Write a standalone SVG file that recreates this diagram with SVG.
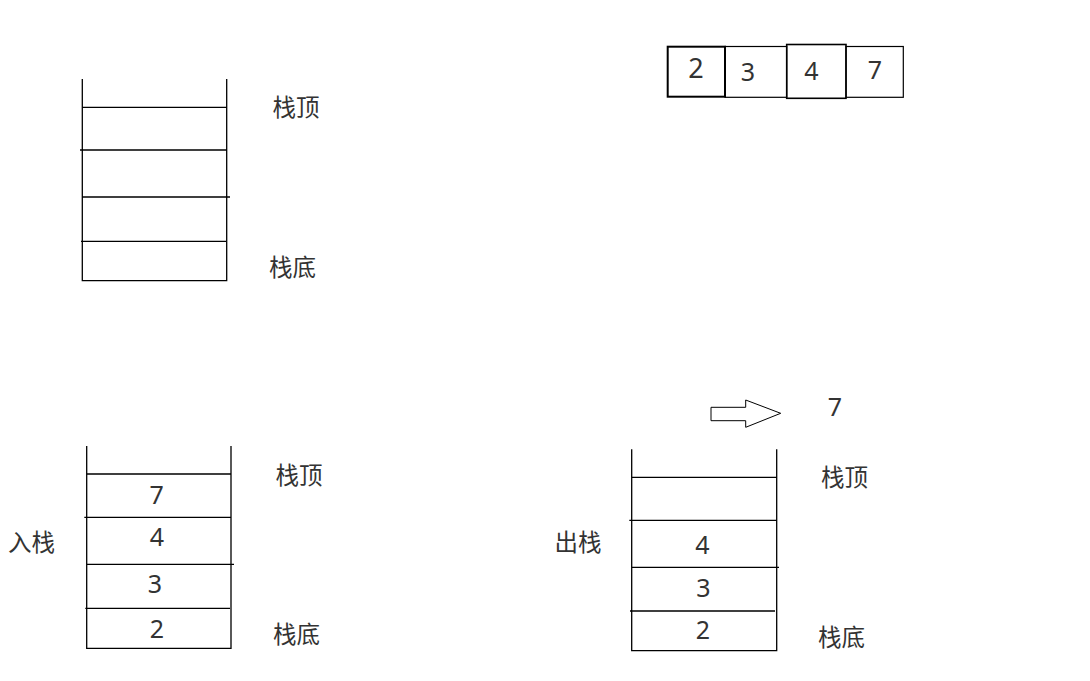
<svg xmlns="http://www.w3.org/2000/svg" width="1090" height="681" viewBox="0 0 1090 681">
<style>
.ln{stroke:#000;stroke-width:1.3;fill:none}
.cj{font-family:"Noto Sans CJK SC","Noto Sans",sans-serif;font-size:23.5px;fill:#333;dominant-baseline:central;text-anchor:middle}
.dg{font-family:"Noto Sans","Noto Sans CJK SC",sans-serif;font-size:25px;fill:#333;dominant-baseline:central;text-anchor:middle}
</style>
<rect width="1090" height="681" fill="#fff"/>
<g id="stack1">
<path class="ln" d="M82.3,79V280.7H226.7V79M82,107.3H227M80,150H227M82,197H230M81,241.3H226"/>
<text class="cj" x="296" y="106">栈顶</text>
<text class="cj" x="292.5" y="266">栈底</text>
</g>
<g id="array">
<rect x="725" y="46.5" width="61.7" height="50.8" fill="none" stroke="#000" stroke-width="1.2"/>
<rect x="846" y="46.5" width="57.3" height="50.8" fill="none" stroke="#000" stroke-width="1.2"/>
<rect x="667.7" y="46.7" width="57.3" height="50" fill="none" stroke="#000" stroke-width="2"/>
<rect x="786.7" y="44.5" width="59.3" height="53.8" fill="none" stroke="#000" stroke-width="1.6"/>
<text class="dg" x="696" y="67.5" style="font-size:27px">2</text>
<text class="dg" x="748" y="70.5">3</text>
<text class="dg" x="811.5" y="70">4</text>
<text class="dg" x="875" y="69">7</text>
</g>
<g id="stack2">
<path class="ln" d="M86.7,446V648.3H231V446M87,474H231M84.3,517.3H231M87,564.3H234M85.3,608.3H230"/>
<text class="dg" x="156.7" y="494">7</text>
<text class="dg" x="157" y="536">4</text>
<text class="dg" x="155" y="582.5">3</text>
<text class="dg" x="157" y="627.5">2</text>
<text class="cj" x="31.5" y="541">入栈</text>
<text class="cj" x="299" y="474">栈顶</text>
<text class="cj" x="296.5" y="632.5">栈底</text>
</g>
<g id="stack3">
<path class="ln" d="M631.7,449.3V650.7H776.7V449.3M632,477.3H777M629.3,520.3H777M632,567.3H779M630,611H775"/>
<text class="dg" x="702.3" y="544">4</text>
<text class="dg" x="703.3" y="587">3</text>
<text class="dg" x="703" y="628.5">2</text>
<text class="cj" x="578" y="541">出栈</text>
<text class="cj" x="844.5" y="476">栈顶</text>
<text class="cj" x="841.5" y="636">栈底</text>
<text class="dg" x="835" y="405.5">7</text>
</g>
<g id="connectors">
<path d="M711,407.3H745.7V400L780.7,413.3L745.7,427.3V420.7H711Z" fill="#fff" stroke="#000" stroke-width="1"/>
</g>
</svg>
